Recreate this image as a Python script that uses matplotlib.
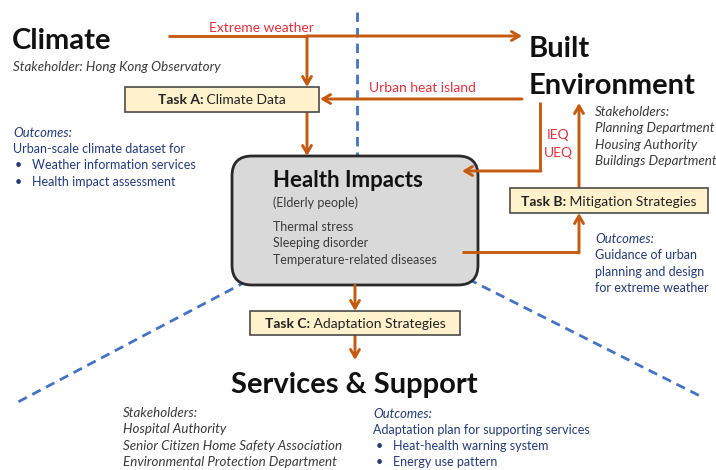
import matplotlib.pyplot as plt
from matplotlib.patches import FancyBboxPatch, Rectangle

plt.rcParams["font.family"] = ["Lato", "DejaVu Sans"]

# texts of the diagram
climate_stakeholder = "Stakeholder: Hong Kong Observatory"
climate_outcome_head = "Urban-scale climate dataset for"
climate_bullets = ["Weather information services", "Health impact assessment"]
built_stakeholders = ["Stakeholders:", "Planning Department", "Housing Authority", "Buildings Department"]
health_items = ["Thermal stress", "Sleeping disorder", "Temperature-related diseases"]
mitigation_outcomes = ["Guidance of urban", "planning and design", "for extreme weather"]
services_stakeholders = ["Stakeholders:", "Hospital Authority",
                         "Senior Citizen Home Safety Association",
                         "Environmental Protection Department"]
services_outcome_head = "Adaptation plan for supporting services"
services_bullets = ["Heat-health warning system", "Energy use pattern"]
flow_labels = ["Extreme weather", "Urban heat island", "IEQ", "UEQ"]
task_labels = ["Task A:", "Task B:", "Task C:"]
task_names = ["Climate Data", "Mitigation Strategies", "Adaptation Strategies"]

ORANGE = "#C55A11"
RED = "#E3313D"
NAVY = "#243A7A"
GRAY = "#3A3A3A"
DASH = "#4472C4"

fig = plt.figure(figsize=(7.16, 4.70), dpi=100)
ax = fig.add_axes([0, 0, 1, 1])
ax.set_xlim(0, 716)
ax.set_ylim(470, 0)
ax.axis("off")
renderer = fig.canvas.get_renderer()


def arrow(start, tip):
    ax.annotate("", xy=tip, xytext=start,
                arrowprops=dict(arrowstyle="->,head_length=0.55,head_width=0.32",
                                color=ORANGE, lw=2.1, shrinkA=0, shrinkB=0),
                zorder=4)


def line(xs, ys):
    ax.plot(xs, ys, color=ORANGE, lw=2.1, solid_capstyle="butt", zorder=4)


def task_box(x0, x1, y0, y1, label, name):
    ax.add_patch(Rectangle((x0, y0), x1 - x0, y1 - y0, facecolor="#FFF2CC",
                           edgecolor="#4A4A4A", lw=1.2, zorder=5))
    cy = (y0 + y1) / 2 + 1
    t1 = ax.text(0, cy, label, fontsize=10, weight="bold", va="center",
                 color="#222222", zorder=6)
    t2 = ax.text(0, cy, " " + name, fontsize=10, va="center",
                 color="#222222", zorder=6)
    w1 = t1.get_window_extent(renderer).width
    w2 = t2.get_window_extent(renderer).width
    left = (x0 + x1) / 2 - (w1 + w2) / 2
    t1.set_x(left)
    t2.set_x(left + w1)


def lines_of_text(x, y0, step, items, **kw):
    for i, s in enumerate(items):
        ax.text(x, y0 + i * step, s, va="center", **kw)


# dashed separators from the centre of the diagram
cx, cy = 357, 223
dash = dict(color=DASH, lw=2, linestyle=(0, (3.4, 2.2)), zorder=1)
ax.plot([cx, cx], [12, cy], **dash)
ax.plot([cx, 18], [cy, 402], **dash)
ax.plot([cx, 704], [cy, 398], **dash)

# health impacts box
ax.add_patch(FancyBboxPatch((232, 156), 246, 129,
                            boxstyle="round,pad=0,rounding_size=20",
                            facecolor="#D9D9D9", edgecolor="#2A2A2A",
                            lw=2, zorder=3))
ax.text(273, 187, "Health Impacts", fontsize=16, weight="bold",
        va="baseline", color="#111111", zorder=6)
ax.text(273, 203, "(Elderly people)", fontsize=9, va="center", color=GRAY, zorder=6)
lines_of_text(273, 227, 16.3, health_items, fontsize=9, color=GRAY, zorder=6)

# headings
ax.text(12, 49, "Climate", fontsize=21, weight="bold", va="baseline", color="#111111")
ax.text(529, 57, "Built", fontsize=21, weight="bold", va="baseline", color="#111111")
ax.text(529, 94, "Environment", fontsize=21, weight="bold", va="baseline", color="#111111")
ax.text(354, 393, "Services & Support", fontsize=21, weight="bold",
        va="baseline", ha="center", color="#111111")

# stakeholders / outcomes text
ax.text(13, 67, climate_stakeholder, fontsize=9.6, style="italic", va="center", color=GRAY)
ax.text(13, 133, "Outcomes:", fontsize=9.4, style="italic", va="center", color=NAVY)
ax.text(13, 149, climate_outcome_head, fontsize=9, va="center", color=NAVY)
for i, s in enumerate(climate_bullets):
    ax.text(15, 165 + i * 16.5, "\u2022", fontsize=9, va="center", color=NAVY)
    ax.text(32, 165 + i * 16.5, s, fontsize=9, va="center", color=NAVY)

lines_of_text(595, 112, 16.3, built_stakeholders, fontsize=9.6, style="italic", color=GRAY)

ax.text(595, 239, "Outcomes:", fontsize=9.4, style="italic", va="center", color=NAVY)
lines_of_text(595, 255, 16.5, mitigation_outcomes, fontsize=9, color=NAVY)

lines_of_text(123, 413, 16.3, services_stakeholders, fontsize=9.6, style="italic", color=GRAY)
ax.text(373, 414, "Outcomes:", fontsize=9.4, style="italic", va="center", color=NAVY)
ax.text(373, 430, services_outcome_head, fontsize=9, va="center", color=NAVY)
for i, s in enumerate(services_bullets):
    ax.text(376, 446 + i * 16.3, "\u2022", fontsize=9, va="center", color=NAVY)
    ax.text(393, 446 + i * 16.3, s, fontsize=9, va="center", color=NAVY)

# flows
line([168, 307], [36, 36])
arrow((307, 36), (522, 36))
arrow((307, 36), (307, 87))
ax.text(261, 28, flow_labels[0], fontsize=10, ha="center", va="center", color=RED)

arrow((522, 99), (320, 99))
ax.text(422, 88, flow_labels[1], fontsize=10, ha="center", va="center", color=RED)

arrow((307, 112), (307, 156))

line([540, 540], [102, 171])
arrow((541, 171), (462, 171))
ax.text(558, 135, flow_labels[2], fontsize=10, ha="center", va="center", color=RED)
ax.text(558, 153, flow_labels[3], fontsize=10, ha="center", va="center", color=RED)

arrow((579, 188), (579, 103))
line([462, 579], [252, 252])
arrow((579, 253), (579, 213))

arrow((355, 285), (355, 311))
arrow((355, 335), (355, 360))

# task boxes
task_box(125, 319, 87, 112, task_labels[0], task_names[0])
task_box(510, 708, 188, 213, task_labels[1], task_names[1])
task_box(250, 460, 311, 335, task_labels[2], task_names[2])

fig.savefig("out.png", dpi=100)
